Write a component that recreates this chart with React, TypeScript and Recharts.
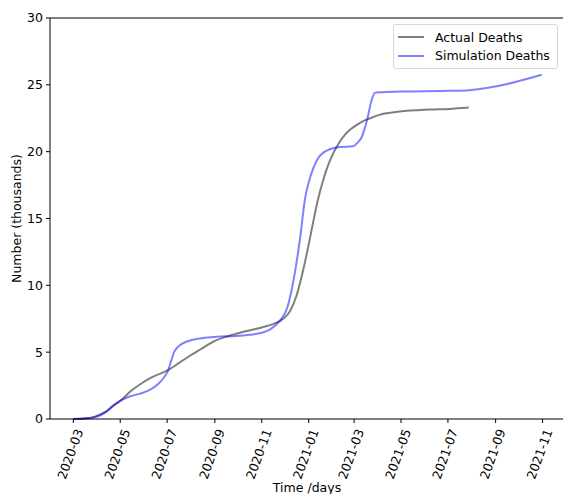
import React from 'react';
import { LineChart, Line, XAxis, YAxis, ReferenceLine, Legend } from 'recharts';

// x values are days since 2020-03-01
const actualDays = [0, 16, 29, 42, 52, 62, 74, 87, 100, 113, 123, 139, 152, 165, 184, 204, 223, 245, 262, 273, 282, 290, 297, 304, 311, 318, 325, 332, 339, 346, 353, 360, 367, 374, 386, 398, 424, 463, 489, 514];
const actualValues = [0, 0.05, 0.2, 0.55, 1.0, 1.4, 2.05, 2.6, 3.05, 3.4, 3.65, 4.25, 4.75, 5.2, 5.85, 6.25, 6.55, 6.85, 7.15, 7.5, 8.1, 9.2, 10.7, 12.5, 14.5, 16.4, 17.9, 19.1, 20.0, 20.7, 21.25, 21.65, 21.95, 22.2, 22.5, 22.75, 23.0, 23.15, 23.2, 23.3];

const simDays = [0, 16, 29, 42, 52, 62, 74, 87, 100, 110, 119, 123, 127, 131, 136, 148, 165, 187, 208, 230, 245, 256, 269, 278, 286, 291, 295, 301, 308, 317, 330, 347, 363, 370, 375, 382, 388, 392, 398, 424, 489, 515, 541, 567, 587, 609];
const simValues = [0, 0.03, 0.15, 0.5, 1.0, 1.4, 1.7, 1.9, 2.2, 2.6, 3.2, 3.6, 4.3, 5.0, 5.4, 5.8, 6.03, 6.16, 6.2, 6.3, 6.45, 6.7, 7.4, 8.3, 10.3, 12.0, 13.6, 16.4, 18.1, 19.4, 20.1, 20.35, 20.4, 20.7, 21.1, 22.4, 23.9, 24.4, 24.45, 24.5, 24.55, 24.6, 24.8, 25.1, 25.4, 25.75];

const xTickLabels = ['2020-03', '2020-05', '2020-07', '2020-09', '2020-11', '2021-01', '2021-03', '2021-05', '2021-07', '2021-09', '2021-11'];
const yTicks = [0, 5, 10, 15, 20, 25, 30];
const seriesNames = ['Actual Deaths', 'Simulation Deaths'];
const seriesColors = ['#000000', '#0000ff'];

const START = Date.UTC(2020, 2, 1);
const labelToDay = (s: string) => {
  const [y, m] = s.split('-').map(Number);
  return Math.round((Date.UTC(y, m - 1, 1) - START) / 86400000);
};
const xTicks = xTickLabels.map(labelToDay);
const dayToLabel: Record<number, string> = {};
xTickLabels.forEach((l, i) => (dayToLabel[xTicks[i]] = l));

const actualData = actualDays.map((d, i) => ({ day: d, v: actualValues[i] }));
const simData = simDays.map((d, i) => ({ day: d, v: simValues[i] }));

const FONT = 'DejaVu Sans';
const FS = 12.5;

const XTick = (props: any) => {
  const { x, y, payload } = props;
  const cx = x - 3;
  const cy = y + 29;
  return (
    <text x={cx} y={cy} textAnchor="middle" dominantBaseline="central" transform={`rotate(-70, ${cx}, ${cy})`} fontSize={FS} fontFamily={FONT} fill="#000">
      {dayToLabel[payload.value]}
    </text>
  );
};

const YLabel = (props: any) => {
  const vb = props.viewBox || {};
  const cx = 16;
  const cy = vb.y + vb.height / 2;
  return (
    <text x={cx} y={cy} textAnchor="middle" dominantBaseline="central" transform={`rotate(-90, ${cx}, ${cy})`} fontSize={FS} fontFamily={FONT} fill="#000">
      Number (thousands)
    </text>
  );
};

const XLabel = (props: any) => {
  const vb = props.viewBox || {};
  return (
    <text x={vb.x + vb.width / 2 - 1} y={491.5} textAnchor="middle" fontSize={FS} fontFamily={FONT} fill="#000">
      Time /days
    </text>
  );
};

const LegendBox = () => (
  <div style={{ border: '1px solid #d6d6d6', borderRadius: 3, background: 'rgba(255,255,255,0.8)', padding: '3px 0', width: 165, boxSizing: 'border-box', fontFamily: FONT, fontSize: FS, color: '#000' }}>
    {seriesNames.map((n, i) => (
      <div key={n} style={{ display: 'flex', alignItems: 'center', height: 18.5 }}>
        <div style={{ width: 26, height: 2, marginLeft: 4, marginRight: 11, background: seriesColors[i], opacity: 0.5 }} />
        <span style={{ whiteSpace: 'nowrap' }}>{n}</span>
      </div>
    ))}
  </div>
);

export default function App() {
  return (
    <div style={{ position: 'absolute', left: 0, top: 0, width: 563, height: 494, overflow: 'hidden', background: '#fff' }}>
      <LineChart width={580} height={494} margin={{ top: 18, right: 14, bottom: 0, left: 0 }}>
        <XAxis
          dataKey="day"
          type="number"
          domain={[-30.3, 640.5]}
          ticks={xTicks}
          interval={0}
          tick={<XTick />}
          tickSize={4}
          height={75}
          stroke="#000"
          allowDataOverflow
          label={<XLabel />}
        />
        <YAxis
          type="number"
          domain={[0, 30]}
          ticks={yTicks}
          interval={0}
          width={50}
          tickSize={4}
          tickMargin={3}
          stroke="#000"
          tick={{ fontSize: FS, fontFamily: FONT, fill: '#000' }}
          label={<YLabel />}
        />
        <ReferenceLine y={30} stroke="#000" ifOverflow="extendDomain" />
        <Legend layout="vertical" align="center" verticalAlign="middle" wrapperStyle={{ position: 'absolute', left: 393, top: 24, width: 165 }} content={<LegendBox />} />
        <Line data={actualData} dataKey="v" name={seriesNames[0]} type="monotone" stroke={seriesColors[0]} strokeOpacity={0.5} strokeWidth={2} dot={false} isAnimationActive={false} />
        <Line data={simData} dataKey="v" name={seriesNames[1]} type="monotone" stroke={seriesColors[1]} strokeOpacity={0.5} strokeWidth={2} dot={false} isAnimationActive={false} />
      </LineChart>
    </div>
  );
}
